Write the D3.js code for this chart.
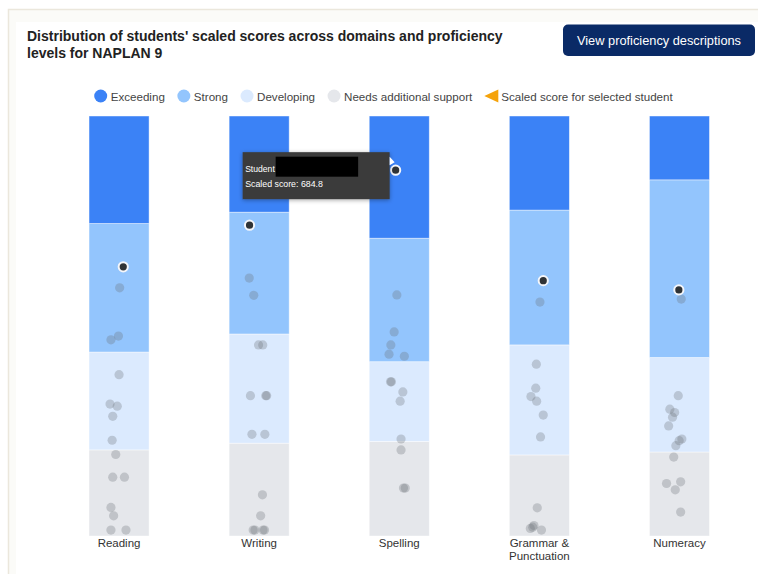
<!DOCTYPE html>
<html><head><meta charset="utf-8">
<script src="https://cdn.jsdelivr.net/npm/d3@7"></script>
<style>
html,body{margin:0;padding:0;background:#fff;}
svg{display:block;font-family:"Liberation Sans",Arial,Helvetica,sans-serif;}
</style></head><body>
<svg id="chart" width="758" height="574"></svg>
<script>
// ---------- DATA ----------
const domains = ["Reading", "Writing", "Spelling", "Grammar & Punctuation", "Numeracy"];
const levels = ["Needs additional support", "Developing", "Strong", "Exceeding"];
// share of each domain's score range taken by each proficiency level (%), bottom to top
const needsShare      = [20.5, 22.1, 22.5, 19.3, 20.0];
const developingShare = [23.3, 26.0, 19.0, 26.2, 22.5];
const strongShare     = [30.6, 29.0, 29.4, 32.1, 42.3];
const exceedingShare  = [25.6, 22.9, 29.1, 22.4, 15.2];
// cohort student positions within each domain range (%), with horizontal jitter (-1..1 of half bar)
const readingScores  = [59.1, 47.6, 46.7, 38.4, 31.4, 30.9, 28.5, 22.8, 19.4, 14.0, 14.0, 6.8, 4.8, 1.4, 1.4];
const readingJitter  = [0.02, -0.02, -0.27, 0, -0.3, -0.06, -0.21, -0.23, -0.11, -0.21, 0.18, -0.27, -0.18, -0.27, 0.23];
const writingScores  = [61.4, 57.3, 45.5, 45.5, 33.4, 33.4, 33.4, 24.2, 24.2, 9.8, 4.8, 1.4, 1.4, 1.4, 1.4];
const writingJitter  = [-0.33, -0.18, -0.02, 0.12, -0.29, 0.22, 0.25, -0.24, 0.19, 0.11, 0.05, -0.2, -0.14, 0.13, 0.18];
const spellingScores = [57.4, 48.6, 45.5, 43.3, 42.8, 36.7, 36.7, 34.3, 32.1, 23.1, 20.5, 11.4, 11.4];
const spellingJitter = [-0.08, -0.17, -0.28, -0.34, 0.17, -0.26, -0.29, 0.12, 0.03, 0.06, 0.06, 0.14, 0.2];
const grammarScores  = [55.7, 40.9, 35.2, 33.2, 32.1, 28.8, 23.6, 6.7, 2.5, 1.8, 1.4, 2.1];
const grammarJitter  = [0.02, -0.1, -0.12, -0.28, -0.09, 0.13, 0.04, -0.07, -0.18, -0.3, 0.07, -0.22];
const numeracyScores = [56.4, 33.4, 30.2, 29.4, 28.3, 26.2, 23.1, 22.7, 21.5, 18.8, 12.5, 12.9, 11.0, 5.7];
const numeracyJitter = [0.06, -0.04, -0.32, -0.16, -0.23, -0.36, 0.08, -0.01, -0.12, -0.19, -0.43, 0.04, -0.14, 0.04];
// selected student
const studentScores = [64.1, 74.0, 87.1, 60.8, 58.6];
const studentJitter = [0.14, -0.32, -0.12, 0.13, -0.02];
const tooltipDomain = "Spelling";
const tooltipScore = "684.8";

const titleLines = ["Distribution of students' scaled scores across domains and proficiency", "levels for NAPLAN 9"];
const buttonLabel = "View proficiency descriptions";
const legendLabels = ["Exceeding", "Strong", "Developing", "Needs additional support", "Scaled score for selected student"];

// ---------- STYLE ----------
const colors = {
  "Exceeding": "#3b82f6",
  "Strong": "#93c5fd",
  "Developing": "#dbeafe",
  "Needs additional support": "#e5e7eb"
};
const triangleColor = "#f5a30b";

const svg = d3.select("#chart");

// frame
svg.append("rect").attr("x", 8.5).attr("y", 9.5).attr("width", 760).attr("height", 570)
  .attr("fill", "#fbfbf8").attr("stroke", "#ebe7dc").attr("stroke-width", 1.5);
svg.append("rect").attr("x", 16).attr("y", 22).attr("width", 750).attr("height", 560).attr("fill", "#fff");

// title
const title = svg.append("text").attr("x", 27).attr("y", 40.5)
  .attr("font-size", 14).attr("font-weight", "bold").attr("fill", "#222");
titleLines.forEach((t, i) => title.append("tspan").attr("x", 27).attr("dy", i ? 17 : 0).text(t));

// button
const btn = svg.append("g");
btn.append("rect").attr("x", 563).attr("y", 24.5).attr("width", 192).attr("height", 31.5)
  .attr("rx", 5).attr("fill", "#0a2a66");
btn.append("text").attr("x", 659).attr("y", 40.5).attr("text-anchor", "middle")
  .attr("dominant-baseline", "central").attr("font-size", 12.8).attr("fill", "#fff").text(buttonLabel);

// scales
const y = d3.scaleLinear().domain([0, 100]).range([536, 116]);
const x = d3.scaleBand().domain(domains).range([49, 749.5]).paddingInner(0.5714).paddingOuter(0.2857);
const jitter = d3.scaleLinear().domain([-1, 1]).range([-x.bandwidth() / 2, x.bandwidth() / 2]);

// stacked bars
const table = domains.map((d, i) => ({
  domain: d,
  "Needs additional support": needsShare[i],
  "Developing": developingShare[i],
  "Strong": strongShare[i],
  "Exceeding": exceedingShare[i]
}));
const series = d3.stack().keys(levels)(table);
svg.append("g").selectAll("g").data(series).join("g")
  .attr("fill", s => colors[s.key])
  .selectAll("rect").data(s => s).join("rect")
  .attr("x", d => x(d.data.domain))
  .attr("y", d => y(d[1]))
  .attr("width", x.bandwidth())
  .attr("height", d => y(d[0]) - y(d[1]))
  .attr("stroke", "rgba(255,255,255,0.55)").attr("stroke-width", 0.8);

// cohort dots
const cohort = [
  [readingScores, readingJitter], [writingScores, writingJitter], [spellingScores, spellingJitter],
  [grammarScores, grammarJitter], [numeracyScores, numeracyJitter]
].flatMap(([s, j], i) => s.map((v, k) => ({ domain: domains[i], value: v, jit: j[k] })));
svg.append("g").selectAll("circle").data(cohort).join("circle")
  .attr("cx", d => x(d.domain) + x.bandwidth() / 2 + jitter(d.jit))
  .attr("cy", d => y(d.value))
  .attr("r", 4.6)
  .attr("fill", "#6b6f78").attr("fill-opacity", 0.3);

// student dots
const students = domains.map((d, i) => ({ domain: d, value: studentScores[i], jit: studentJitter[i] }));
svg.append("g").selectAll("circle").data(students).join("circle")
  .attr("cx", d => x(d.domain) + x.bandwidth() / 2 + jitter(d.jit))
  .attr("cy", d => y(d.value))
  .attr("r", 4.6)
  .attr("fill", "#2f3336").attr("stroke", "#f4f6fa").attr("stroke-width", 2);

// x axis labels
const xAxis = svg.append("g").attr("transform", `translate(0,${y(0)})`)
  .call(d3.axisBottom(x).tickSize(0).tickPadding(3));
xAxis.select(".domain").remove();
xAxis.selectAll("text").attr("font-size", 11.5).attr("fill", "#333")
  .attr("font-family", "'Liberation Sans', Arial, sans-serif")
  .each(function (d) {
    const t = d3.select(this);
    const parts = d.includes(" & ") ? [d.split(" & ")[0] + " &", d.split(" & ")[1]] : [d];
    t.text(null).attr("dy", null);
    parts.forEach((p, i) => t.append("tspan").attr("x", 0).attr("dy", i ? "1.15em" : "0.7em").text(p));
  });

// legend
const legend = svg.append("g").attr("transform", "translate(0,96)");
let lx = 100.7;
legendLabels.forEach((lab, i) => {
  const g = legend.append("g");
  if (i < 4) {
    g.append("circle").attr("cx", lx).attr("cy", 0).attr("r", 6.5).attr("fill", colors[levels[3 - i]]);
  } else {
    g.append("path").attr("d", `M${lx - 7},0 L${lx + 7},-6.5 L${lx + 7},6.5 Z`).attr("fill", triangleColor);
  }
  const t = g.append("text").attr("x", lx + 10).attr("y", 0).attr("dominant-baseline", "central")
    .attr("font-size", 11.6).attr("fill", "#444").text(lab);
  lx = lx + 10 + t.node().getComputedTextLength() + 19;
});

// tooltip
const sIdx = domains.indexOf(tooltipDomain);
const tipX = x(tooltipDomain) + x.bandwidth() / 2 + jitter(studentJitter[sIdx]);
const tipY = y(studentScores[sIdx]);
const defs = svg.append("defs");
const f = defs.append("filter").attr("id", "sh").attr("x", "-20%").attr("y", "-30%").attr("width", "140%").attr("height", "160%");
f.append("feDropShadow").attr("dx", 0).attr("dy", 1).attr("stdDeviation", 2).attr("flood-color", "#000").attr("flood-opacity", 0.35);
const tip = svg.append("g");
const bx = tipX - 153, by = tipY - 18;
tip.append("rect").attr("x", bx).attr("y", by).attr("width", 147).attr("height", 47)
  .attr("fill", "#3a3a3a").attr("filter", "url(#sh)");
tip.append("path").attr("d", `M${bx + 147},${by + 4.5} L${bx + 152},${by + 10} L${bx + 147},${by + 13} Z`).attr("fill", "#fff");
tip.append("text").attr("x", bx + 2.5).attr("y", by + 19.5).attr("font-size", 8.6).attr("fill", "#fff").text("Student");
tip.append("rect").attr("x", bx + 33).attr("y", by + 4.5).attr("width", 82.5).attr("height", 20).attr("fill", "#000");
tip.append("text").attr("x", bx + 2.5).attr("y", by + 35).attr("font-size", 8.8).attr("fill", "#fff").text("Scaled score: " + tooltipScore);
</script>
</body></html>
